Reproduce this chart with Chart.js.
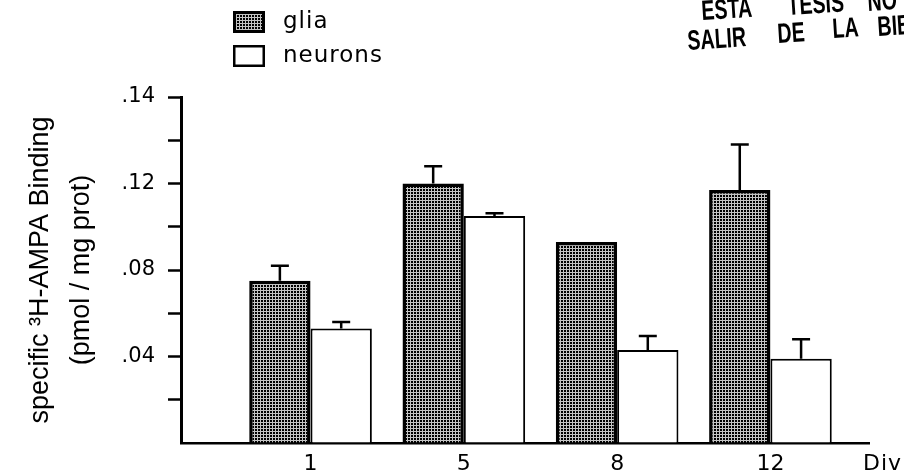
<!DOCTYPE html>
<html>
<head>
<meta charset="utf-8">
<script src="https://cdn.jsdelivr.net/npm/chart.js@4.4.1/dist/chart.umd.min.js"></script>
<style>
  html, body { margin: 0; padding: 0; background: #fff; }
  #wrap { width: 904px; height: 473px; }
</style>
</head>
<body>
<div id="wrap"><canvas id="chart" width="904" height="473"></canvas></div>
<script>
// values
const days = ['1', '5', '8', '12'];
const seriesNames = ['glia', 'neurons'];
const gliaValues = [0.075, 0.120, 0.093, 0.117];
const gliaErrors = [0.007, 0.008, 0, 0.021];
const neuronValues = [0.053, 0.105, 0.043, 0.039];
const neuronErrors = [0.003, 0.0013, 0.0065, 0.009];
const yTickValues = [0.04, 0.08, 0.12, 0.16];
const yTickLabels = ['.04', '.08', '.12', '.14']; // the top one is printed ".14" in the original
const xUnitLabel = 'Div';
const yTitle = ['specific \u00B3H-AMPA Binding', '(pmol / mg prot)'];
const stampWords = ['ESTA', 'TESIS', 'NO', 'SALIR', 'DE', 'LA', 'BIBLIOTECA'];

const geo = "'DejaVu Sans', 'Noto Sans', sans-serif";

const canvas = document.getElementById('chart');
const ctx = canvas.getContext('2d');

// dotted screen used for the glia bars
function makeDots(target) {
  const c = document.createElement('canvas');
  c.width = 3;
  c.height = 3;
  const g = c.getContext('2d');
  g.fillStyle = '#c4c4c4';
  g.fillRect(0, 0, 3, 3);
  g.fillStyle = '#000';
  g.fillRect(0, 0, 2, 2);
  return target.createPattern(c, 'repeat');
}
const dots = makeDots(ctx);

const toPoints = vals => vals.map((v, i) => ({ x: i, y: v }));

// only the upper half of each error bar is drawn
const errorBars = {
  id: 'errorBars',
  afterDatasetsDraw(chart) {
    const c = chart.ctx;
    const y = chart.scales.y;
    chart.data.datasets.forEach((ds, di) => {
      const meta = chart.getDatasetMeta(di);
      meta.data.forEach((bar, i) => {
        const err = ds.errors[i];
        if (!err) return;
        const top = y.getPixelForValue(ds.data[i].y + err);
        c.save();
        c.strokeStyle = '#000';
        c.lineWidth = 2.5;
        c.beginPath();
        c.moveTo(bar.x, bar.y);
        c.lineTo(bar.x, top);
        c.moveTo(bar.x - 9, top);
        c.lineTo(bar.x + 9, top);
        c.stroke();
        c.restore();
      });
    });
  }
};

// stacked legend in the top left, like the figure
const legendBoxes = {
  id: 'legendBoxes',
  afterDraw(chart) {
    const c = chart.ctx;
    chart.data.datasets.forEach((ds, i) => {
      const x = 233, y = 11 + i * 34, w = 32, h = 22;
      const bw = i === 0 ? 3 : 2.5;
      c.save();
      c.fillStyle = ds.backgroundColor;
      c.fillRect(x, y, w, h);
      c.strokeStyle = '#000';
      c.lineWidth = bw;
      c.strokeRect(x + bw / 2, y + bw / 2, w - bw, h - bw);
      c.fillStyle = '#000';
      c.font = '23px ' + geo;
      c.letterSpacing = '1px';
      c.textBaseline = 'middle';
      c.fillText(ds.label, x + 50, y + h / 2);
      c.restore();
    });
  }
};

// "Div" sits at the end of the x axis, on the tick label line
const unitLabel = {
  id: 'unitLabel',
  afterDraw(chart) {
    const c = chart.ctx;
    const a = chart.chartArea;
    c.save();
    c.fillStyle = '#000';
    c.font = '22px ' + geo;
    c.letterSpacing = '1px';
    c.textBaseline = 'middle';
    c.fillText(xUnitLabel, a.right - 6, a.bottom + 21);
    c.restore();
  }
};

// library stamp cut off by the top right edge
const stamp = {
  id: 'stamp',
  afterDraw(chart) {
    const c = chart.ctx;
    const spots = [[702, 20], [788, 15], [868, 11], [688, 50], [778, 43], [833, 38], [878, 36]];
    c.save();
    c.fillStyle = '#000';
    c.font = "bold 28px 'Liberation Sans', Arial, sans-serif";
    stampWords.forEach((w, i) => {
      c.save();
      c.translate(spots[i][0], spots[i][1]);
      c.rotate(-3.7 * Math.PI / 180);
      c.scale(0.7, 1);
      c.fillText(w, 0, 0);
      c.restore();
    });
    c.restore();
  }
};

new Chart(ctx, {
  type: 'bar',
  data: {
    labels: days,
    datasets: [
      {
        label: seriesNames[0],
        data: toPoints(gliaValues),
        errors: gliaErrors,
        backgroundColor: dots,
        borderColor: '#000',
        borderWidth: 3.5
      },
      {
        label: seriesNames[1],
        data: toPoints(neuronValues),
        errors: neuronErrors,
        backgroundColor: '#fff',
        borderColor: '#000',
        borderWidth: 2
      }
    ]
  },
  options: {
    responsive: false,
    animation: false,
    events: [],
    categoryPercentage: 0.8,
    barPercentage: 1.0,
    layout: { padding: { top: 97, right: 35, bottom: 0, left: 0 } },
    plugins: {
      legend: { display: false },
      tooltip: { enabled: false }
    },
    scales: {
      x: {
        type: 'linear',
        offset: false,
        min: -0.845,
        max: 3.643,
        afterBuildTicks: s => { s.ticks = days.map((d, i) => ({ value: i })); },
        afterFit: s => { s.height = 30; },
        grid: { display: false, drawTicks: false, offset: false },
        border: { display: true, color: '#000', width: 2.5 },
        ticks: {
          autoSkip: false,
          maxRotation: 0,
          padding: 8,
          color: '#000',
          font: { family: geo, size: 22 },
          callback: v => days[v]
        }
      },
      y: {
        min: 0,
        max: 0.16,
        afterFit: s => { s.width = 181; },
        grid: {
          drawOnChartArea: false,
          drawTicks: true,
          tickLength: 13,
          tickWidth: 2.5,
          tickColor: c => (c.tick && c.tick.value > 0.001 ? '#000' : 'rgba(0,0,0,0)')
        },
        border: { display: true, color: '#000', width: 3 },
        ticks: {
          stepSize: 0.02,
          padding: 13,
          color: '#000',
          font: { family: geo, size: 21 },
          callback: v => {
            const k = yTickValues.findIndex(t => Math.abs(t - v) < 1e-6);
            return k < 0 ? '' : yTickLabels[k];
          }
        },
        title: {
          display: true,
          text: yTitle,
          color: '#000',
          font: { family: "'Liberation Sans', Arial, sans-serif", size: 27, lineHeight: 1.52 },
          padding: { top: 20, bottom: 0 }
        }
      }
    }
  },
  plugins: [errorBars, legendBoxes, unitLabel, stamp]
});
</script>
</body>
</html>
